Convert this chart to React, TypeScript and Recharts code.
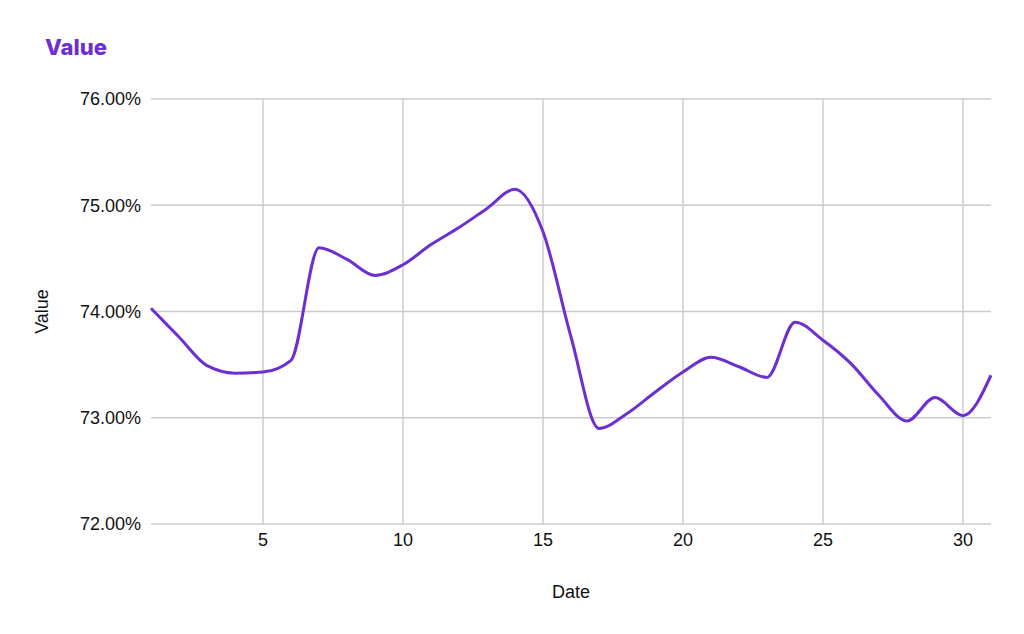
import React from 'react';
import {
  LineChart,
  Line,
  XAxis,
  YAxis,
  CartesianGrid,
  Label
} from 'recharts';

const days = [1, 2, 3, 4, 5, 6, 7, 8, 9, 10, 11, 12, 13, 14, 15, 16, 17, 18, 19, 20, 21, 22, 23, 24, 25, 26, 27, 28, 29, 30, 31];
const values = [
  74.03, 73.76, 73.49, 73.42, 73.43, 73.54, 74.6, 74.49, 74.34, 74.44,
  74.63, 74.79, 74.97, 75.15, 74.75, 73.76, 72.9, 73.04, 73.24, 73.43,
  73.57, 73.48, 73.38, 73.9, 73.73, 73.51, 73.21, 72.97, 73.19, 73.02, 73.4
];
const yTicks = [72, 73, 74, 75, 76];
const xTicks = [5, 10, 15, 20, 25, 30];

const data = days.map((d, i) => ({ date: d, value: values[i] }));

const PURPLE = '#6c30d2';
const FONT = '"Liberation Sans", Arial, sans-serif';

export default function App() {
  return (
    <div style={{ position: 'absolute', left: 0, top: 0, width: 1024, height: 634, background: '#fff' }}>
      <div
        style={{
          position: 'absolute',
          left: 45,
          top: 34,
          fontFamily: 'Inter, "Noto Sans", sans-serif',
          fontWeight: 800,
          fontSize: 22,
          color: PURPLE
        }}
      >
        Value
      </div>
      <LineChart
        width={1024}
        height={634}
        data={data}
        margin={{ top: 99, right: 33, bottom: 0, left: 0 }}
        style={{ fontFamily: FONT }}
      >
        <CartesianGrid
          stroke="#cccccc"
          strokeWidth={1.5}
          verticalValues={xTicks}
          horizontalValues={yTicks}
        />
        <XAxis
          dataKey="date"
          type="number"
          domain={[1, 31]}
          ticks={xTicks}
          height={110}
          axisLine={false}
          tickLine={false}
          tickMargin={3}
          tick={{ fill: '#111', fontSize: 18 }}
        >
          <Label value="Date" position="insideBottom" offset={36} fill="#111" fontSize={18} />
        </XAxis>
        <YAxis
          domain={[72, 76]}
          ticks={yTicks}
          width={151}
          axisLine={false}
          tickLine={false}
          tickMargin={4}
          tickFormatter={(v: number) => `${v.toFixed(2)}%`}
          tick={{ fill: '#111', fontSize: 18 }}
        >
          <Label
            value="Value"
            angle={-90}
            position="insideLeft"
            offset={42}
            fill="#111"
            fontSize={18}
            style={{ textAnchor: 'middle' }}
          />
        </YAxis>
        <Line
          type="monotone"
          dataKey="value"
          stroke={PURPLE}
          strokeWidth={3}
          dot={false}
          activeDot={false}
          isAnimationActive={false}
        />
      </LineChart>
    </div>
  );
}
